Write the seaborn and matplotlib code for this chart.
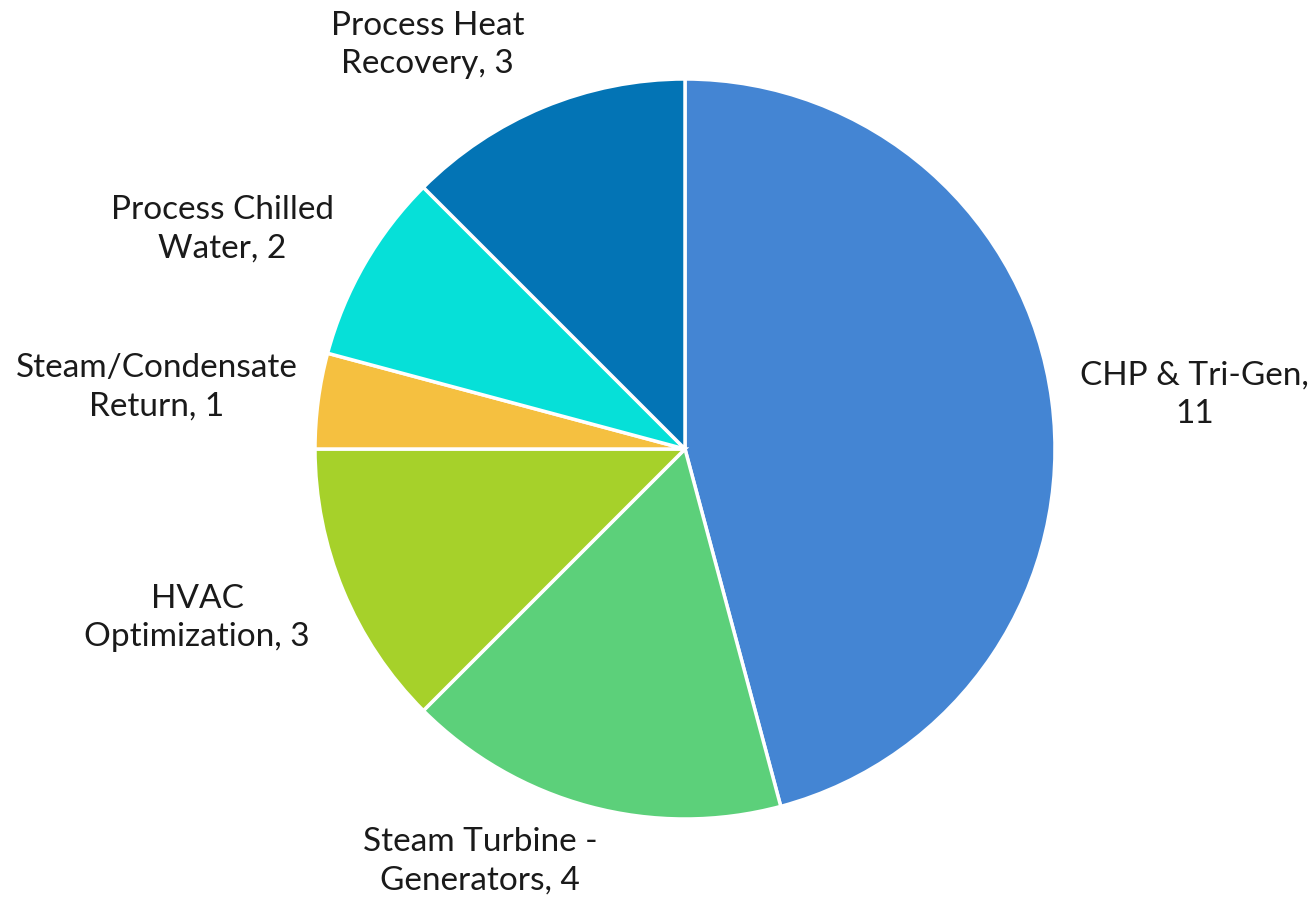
import numpy as np
import matplotlib.pyplot as plt
import seaborn as sns

# --- data ---
categories = ["CHP & Tri-Gen", "Steam Turbine -\nGenerators", "HVAC\nOptimization",
              "Steam/Condensate\nReturn", "Process Chilled\nWater", "Process Heat\nRecovery"]
counts = [11, 4, 3, 1, 2, 3]
colors = ["#4485D3", "#5CD07A", "#A6D12A", "#F5C040", "#06E0D8", "#0374B5"]

# label placement (data units, pie radius = 1)
label_pos = [(1.378, 0.146), (-0.554, -1.114), (-1.319, -0.457),
             (-1.427, 0.168), (-1.251, 0.595), (-0.695, 1.092)]
label_sep = [",\n", ", ", ", ", ", ", ", ", ", "]

sns.set_theme(style="white")
plt.rcParams['font.family'] = ['Lato', 'DejaVu Sans']

fig = plt.figure(figsize=(13.12, 8.99), dpi=100)
ax = fig.add_axes([0, 0, 1, 1])

wedges, _ = ax.pie(counts, colors=colors, startangle=90, counterclock=False,
                   radius=1, wedgeprops=dict(edgecolor="white", linewidth=2.5))

for name, val, sep, (x, y) in zip(categories, counts, label_sep, label_pos):
    ax.text(x, y, f"{name}{sep}{val}", ha="center", va="center",
            fontsize=24, color="#1a1a1a", linespacing=1.35)

# 370 px per unit, center at (685, 449)
ax.set_xlim(-685 / 370, 627 / 370)
ax.set_ylim(-450 / 370, 449 / 370)
ax.set_aspect('auto')
ax.axis('off')

fig.savefig("out.png", dpi=100)
